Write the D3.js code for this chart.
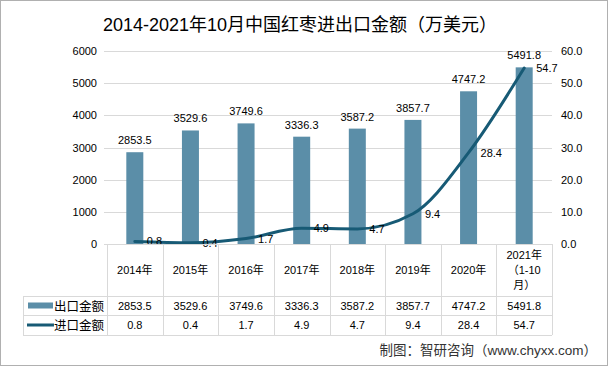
<!DOCTYPE html>
<html><head><meta charset="utf-8">
<script src="https://cdn.jsdelivr.net/npm/d3@7"></script>
<style>
html,body{margin:0;padding:0;background:#fff;}
svg{display:block;}
</style></head>
<body>
<script>
const categories = ["2014年","2015年","2016年","2017年","2018年","2019年","2020年","2021年（1-10月）"];
const categoryLines = [["2014年"],["2015年"],["2016年"],["2017年"],["2018年"],["2019年"],["2020年"],["2021年","（1-10","月）"]];
const exportValues = [2853.5,3529.6,3749.6,3336.3,3587.2,3857.7,4747.2,5491.8];
const importValues = [0.8,0.4,1.7,4.9,4.7,9.4,28.4,54.7];
const leftTicks = [0,1000,2000,3000,4000,5000,6000];
const rightTicks = [0,10,20,30,40,50,60];
const seriesNames = ["出口金额","进口金额"];
const title = "2014-2021年10月中国红枣进出口金额（万美元）";
const credit = "制图：智研咨询（www.chyxx.com）";

const W = 608, H = 366;
const barColor = "#5b8ea8", lineColor = "#175a75", gridColor = "#d9d9d9", tableColor = "#d9d9d9";
const font = "'Liberation Sans','Noto Sans CJK SC',sans-serif";

const svg = d3.select("body").append("svg").attr("width", W).attr("height", H)
  .style("font-family", font);

svg.append("rect").attr("x",0.5).attr("y",0.5).attr("width",W-1).attr("height",H-1)
  .attr("fill","#fff").attr("stroke","#b0b0b0");

const plot = {left:107, right:552, top:51, bottom:244};
const x = d3.scaleBand().domain(categories).range([plot.left, plot.right]);
const yL = d3.scaleLinear().domain([0,6000]).range([plot.bottom, plot.top]);
const yR = d3.scaleLinear().domain([0,60]).range([plot.bottom, plot.top]);

// title
svg.append("text").attr("x",300).attr("y",31).attr("text-anchor","middle")
  .attr("font-size",18).attr("fill","#000").text(title);

// gridlines
svg.append("g").selectAll("line").data(leftTicks).join("line")
  .attr("x1",plot.left-3).attr("x2",plot.right)
  .attr("y1",d=>Math.round(yL(d))+0.5).attr("y2",d=>Math.round(yL(d))+0.5)
  .attr("stroke",gridColor).attr("stroke-width",1);

// left axis
const gl = svg.append("g").attr("transform",`translate(${plot.left-10},0)`)
  .call(d3.axisLeft(yL).tickValues(leftTicks).tickSize(0).tickPadding(0).tickFormat(d3.format("d")));
gl.select(".domain").remove();
gl.selectAll("text").attr("font-size",11).attr("fill","#000").style("font-family",font);

// right axis
const gr = svg.append("g").attr("transform",`translate(${plot.right+9},0)`)
  .call(d3.axisRight(yR).tickValues(rightTicks).tickSize(0).tickPadding(0).tickFormat(d3.format(".1f")));
gr.select(".domain").remove();
gr.selectAll("text").attr("font-size",11).attr("fill","#000").style("font-family",font);

// bars
const bw = 17;
svg.append("g").selectAll("rect").data(exportValues).join("rect")
  .attr("x",(d,i)=>x(categories[i])+x.bandwidth()/2-bw/2)
  .attr("width",bw)
  .attr("y",d=>yL(d)).attr("height",d=>plot.bottom-yL(d))
  .attr("fill",barColor);

svg.append("g").selectAll("text").data(exportValues).join("text")
  .attr("x",(d,i)=>x(categories[i])+x.bandwidth()/2)
  .attr("y",d=>yL(d)-8)
  .attr("text-anchor","middle").attr("font-size",11).attr("fill","#000")
  .text(d=>d.toFixed(1));

// line
const line = d3.line()
  .x((d,i)=>x(categories[i])+x.bandwidth()/2)
  .y(d=>yR(d))
  .curve(d3.curveMonotoneX);
svg.append("path").datum(importValues).attr("d",line)
  .attr("fill","none").attr("stroke",lineColor).attr("stroke-width",3)
  .attr("stroke-linejoin","round").attr("stroke-linecap","round");

svg.append("g").selectAll("text").data(importValues).join("text")
  .attr("x",(d,i)=>x(categories[i])+x.bandwidth()/2+12)
  .attr("y",d=>yR(d)+4)
  .attr("font-size",11).attr("fill","#000")
  .text(d=>d.toFixed(1));

// axis line
svg.append("line").attr("x1",plot.left).attr("x2",plot.right)
  .attr("y1",plot.bottom+0.5).attr("y2",plot.bottom+0.5).attr("stroke",tableColor);

// data table
const tTop = plot.bottom, r1 = 296, r2 = 315, r3 = 335, tLeft = 23;
const tg = svg.append("g").attr("stroke",tableColor).attr("stroke-width",1);
const bounds = categories.map(c=>x(c)).concat([plot.right]);
bounds.forEach(bx=>{
  tg.append("line").attr("x1",Math.round(bx)+0.5).attr("x2",Math.round(bx)+0.5)
    .attr("y1",tTop).attr("y2",r3);
});
tg.append("line").attr("x1",tLeft+0.5).attr("x2",tLeft+0.5).attr("y1",r1).attr("y2",r3);
[r1,r2,r3].forEach(ry=>{
  tg.append("line").attr("x1",tLeft).attr("x2",plot.right).attr("y1",ry+0.5).attr("y2",ry+0.5);
});

// header labels
categoryLines.forEach((lines,i)=>{
  const cx = x(categories[i])+x.bandwidth()/2;
  const n = lines.length, lh = 15;
  const cy = 270;
  lines.forEach((t,j)=>{
    svg.append("text").attr("x",cx).attr("y",cy + (j-(n-1)/2)*lh + 4)
      .attr("text-anchor","middle").attr("font-size",11).attr("fill","#000").text(t);
  });
});

// rows
const rows = [exportValues, importValues];
rows.forEach((vals,ri)=>{
  const cy = ri===0 ? (r1+r2)/2 : (r2+r3)/2;
  vals.forEach((v,i)=>{
    svg.append("text").attr("x",x(categories[i])+x.bandwidth()/2).attr("y",cy+4)
      .attr("text-anchor","middle").attr("font-size",11).attr("fill","#000").text(v.toFixed(1));
  });
  svg.append("text").attr("x",104).attr("y",cy+5).attr("text-anchor","end")
    .attr("font-size",12.5).attr("fill","#000").text(seriesNames[ri]);
});
// legend keys
svg.append("rect").attr("x",28).attr("y",(r1+r2)/2-3).attr("width",25).attr("height",6).attr("fill",barColor);
svg.append("line").attr("x1",27).attr("x2",54).attr("y1",(r2+r3)/2).attr("y2",(r2+r3)/2)
  .attr("stroke",lineColor).attr("stroke-width",3);

// credit
svg.append("text").attr("x",597).attr("y",355).attr("text-anchor","end")
  .attr("font-size",13.5).attr("fill","#333").text(credit);
</script>
</body></html>
